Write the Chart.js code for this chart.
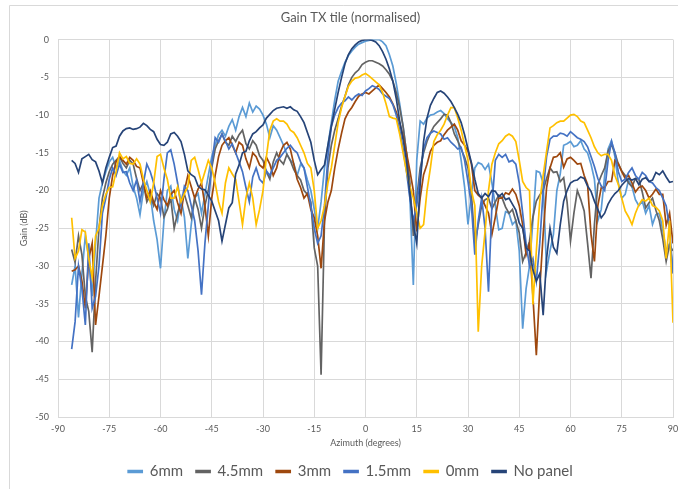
<!DOCTYPE html>
<html>
<head>
<meta charset="utf-8">
<script src="https://cdn.jsdelivr.net/npm/chart.js@4.4.0/dist/chart.umd.min.js"></script>
<style>
  html, body { margin: 0; padding: 0; background: #fff; }
</style>
</head>
<body>
<canvas id="mycanvas" width="678" height="489"></canvas>
<script>
// azimuth in degrees (1 degree steps), gain in dB (normalised)
var azimuth = [-86,-85,-84,-83,-82,-81,-80,-79,-78,-77,
  -76,-75,-74,-73,-72,-71,-70,-69,-68,-67,
  -66,-65,-64,-63,-62,-61,-60,-59,-58,-57,
  -56,-55,-54,-53,-52,-51,-50,-49,-48,-47,
  -46,-45,-44,-43,-42,-41,-40,-39,-38,-37,
  -36,-35,-34,-33,-32,-31,-30,-29,-28,-27,
  -26,-25,-24,-23,-22,-21,-20,-19,-18,-17,
  -16,-15,-14,-13,-12,-11,-10,-9,-8,-7,
  -6,-5,-4,-3,-2,-1,0,1,2,3,
  4,5,6,7,8,9,10,11,12,13,
  14,15,16,17,18,19,20,21,22,23,
  24,25,26,27,28,29,30,31,32,33,
  34,35,36,37,38,39,40,41,42,43,
  44,45,46,47,48,49,50,51,52,53,
  54,55,56,57,58,59,60,61,62,63,
  64,65,66,67,68,69,70,71,72,73,
  74,75,76,77,78,79,80,81,82,83,
  84,85,86,87,88,89,90];

var gain6mm = [-32.5,-30,-36.8,-31,-26,-29,-34,-27,-21,-19,
  -17.5,-16.2,-15.6,-17,-16,-17.4,-18,-17,-19.5,-21,
  -23.2,-20,-18.8,-20.5,-24,-26.5,-30.3,-24,-20,-19.4,
  -22.5,-24,-21,-23.5,-29,-24.5,-21,-20.4,-23,-20.5,
  -18,-15.5,-14,-12.6,-12,-12.8,-11.5,-10.6,-12,-10.2,
  -9,-10.2,-8.4,-9.6,-8.8,-9.2,-10,-11.2,-13,-11.4,
  -12,-13,-14,-15.2,-16,-16.4,-18,-16.5,-17,-18.6,
  -20,-22.5,-25,-21.5,-17,-14,-11,-8,-5.5,-4.2,
  -3,-2.1,-1.5,-1,-0.6,-0.4,-0.2,-0.1,0,0,
  0,-0.3,-0.8,-2,-3.5,-5.8,-8.5,-11.5,-15,-21,
  -32.5,-16,-10.8,-11.2,-10.4,-10,-9.9,-9.6,-9.4,-9.8,
  -10.5,-11,-11.5,-13,-16,-19.5,-24.5,-20.4,-17,-16.3,
  -16.5,-17.2,-16.5,-19,-22,-25.2,-25,-22.8,-23,-24.5,
  -24,-28,-38.3,-33,-30,-24,-17.4,-17.6,-19,-30.6,
  -28,-25.8,-20,-17.8,-14,-13.8,-13.5,-14.2,-14,-13.4,
  -14.5,-15,-16.5,-18.5,-24,-22.5,-18,-14.5,-13.4,-15.5,
  -19,-21,-20.5,-18.6,-19.5,-21.2,-22,-21.4,-23,-22,
  -24.5,-23.2,-23,-25.2,-28,-27,-30];

var gain4_5mm = [-27.8,-29.5,-26,-28.5,-34,-36,-41.4,-32,-25,-21,
  -19,-17.5,-16.5,-16,-15.5,-16.4,-17,-16,-16.5,-18.4,
  -20,-19,-21.5,-20.6,-22,-20.4,-21,-23.5,-22.5,-21,
  -25,-23,-21.5,-20.5,-22,-23.6,-21,-22.5,-25,-22,
  -20,-17,-14.5,-13.4,-12.5,-13.6,-14,-12.8,-13.5,-12.6,
  -12,-13.8,-14.5,-13.4,-14,-15.4,-16,-17.5,-18.5,-16.2,
  -15,-16,-16.5,-15.2,-16,-17.2,-18,-18.6,-20,-20.5,
  -21.5,-27.6,-30,-44.4,-24,-17,-14,-12,-10.5,-8.8,
  -7.5,-6,-5,-4.4,-4,-3.3,-3,-2.8,-2.8,-3,
  -3.2,-3.5,-4,-4.6,-5.5,-7,-9,-11.5,-15,-19,
  -26,-21,-17,-15,-13.5,-12.4,-11.5,-11,-10.5,-9.9,
  -10,-11,-12.5,-13.4,-14.5,-15.6,-17,-20.5,-27,-24.5,
  -22,-21.2,-21,-22.4,-21.5,-20.6,-21,-22.2,-23,-22.5,
  -24,-25.6,-29.4,-28.2,-26.7,-23.5,-21.4,-20.6,-20,-18.4,
  -17,-17.6,-17.5,-18.8,-18.3,-21.5,-26.7,-23,-20,-21.2,
  -22.7,-27,-31.6,-24.5,-19.2,-18,-17,-14.8,-13.9,-15,
  -16.5,-17.4,-18,-19,-19.5,-18.4,-18.5,-20.2,-22.3,-21.6,
  -21,-22.6,-24,-26.4,-29.4,-27.2,-28];

var gain3mm = [-30.7,-30.5,-30,-32,-35.6,-29,-27,-37.8,-34,-30,
  -26,-21,-18,-16.2,-15.5,-16,-16.5,-15.6,-16,-16.8,
  -17,-19,-21,-20,-21.5,-22.5,-20,-21.2,-22,-20.5,
  -20,-21.6,-23,-20,-18,-19.5,-21,-19.8,-19,-22,
  -26,-21,-18,-15.5,-14,-13.4,-13,-14,-15,-13.6,
  -14,-15.8,-17,-15,-15.5,-16.6,-17,-15.6,-16.5,-18,
  -17,-15,-14,-13.6,-14.5,-16.5,-18.5,-19.6,-21,-20.4,
  -22.5,-23.6,-26,-30.3,-24,-21.5,-20,-17,-14.5,-12.4,
  -10.5,-9.6,-9,-8.2,-7.5,-7.2,-7,-7.2,-6.8,-6.4,
  -6,-6.5,-7,-7.6,-8.5,-9.6,-11,-12.8,-15,-17.4,
  -20,-25.4,-21,-17.9,-16.5,-14.8,-14,-13.6,-13.4,-12.6,
  -12,-11.6,-11.2,-12,-13.4,-14,-14.8,-16.5,-20,-20.6,
  -21,-22,-23,-25.8,-23.5,-21,-21,-20.3,-20.5,-19.8,
  -20.5,-22,-24.5,-28.5,-27,-34,-41.8,-33,-25.8,-19.6,
  -17,-15.6,-15.5,-15,-16.9,-15.8,-15.6,-16,-16.5,-16.4,
  -18,-19.2,-25.8,-29.4,-22,-19.6,-19.6,-18.8,-18.8,-16,
  -16.4,-17.5,-18.4,-18,-19,-20.2,-19.6,-19.4,-20,-21,
  -20.5,-19.8,-20.5,-20.5,-24.6,-23,-27];

var gain1_5mm = [-41,-37.4,-30,-33,-37.8,-27,-35.6,-34,-30,-23,
  -21,-18.5,-17,-18,-16.5,-17.6,-17.5,-19,-20,-18.6,
  -21.5,-19,-16.5,-17.5,-19,-21,-23,-18.5,-15,-14.6,
  -16.5,-19,-22,-19.4,-20,-22,-24,-28,-33.8,-27,
  -22,-16.5,-13,-13.6,-12.5,-13.4,-14.5,-13.8,-15,-16.2,
  -17.5,-19.6,-21.5,-18.2,-17,-18.5,-19,-17.4,-18,-17,
  -16,-15.6,-15,-14.4,-14,-14.6,-15,-16.2,-17,-19.5,
  -22,-25,-27,-26,-22,-15.5,-11.5,-10,-9,-8.4,
  -8.1,-7.6,-8,-7.5,-7.2,-7.4,-6.8,-6.5,-6.1,-6.3,
  -6.6,-7.2,-7.5,-7.8,-8.6,-10,-12,-14.5,-17.5,-21,
  -24,-22,-18,-14.5,-13,-12.4,-12.1,-12.3,-12.5,-13.2,
  -13,-13.6,-14,-14.5,-14.3,-16,-18.8,-22,-28.5,-24,
  -21,-25,-33.4,-22,-16,-15.2,-15.6,-15.2,-16.2,-16,
  -16.5,-19,-23,-27,-30,-29,-32,-27,-20,-15.5,
  -13.2,-12.8,-12.8,-12.4,-12.5,-12.8,-12.2,-12.6,-13,-13.2,
  -13.5,-14.2,-15.5,-16.8,-18.4,-19.4,-20,-16,-13.5,-15,
  -17.5,-18.8,-18.5,-17.6,-17,-18,-18.5,-17.6,-18,-18.8,
  -19,-19.6,-20,-21,-22,-25,-31];

var gain0mm = [-23.6,-29,-28,-25.2,-25.5,-29,-31.5,-26,-25,-22,
  -20.5,-19.6,-19.5,-17.5,-15,-15.8,-15.5,-16.4,-16.5,-15.8,
  -16.5,-18.5,-20,-21.5,-19,-15.5,-15.2,-17,-18.5,-21,
  -21,-19.5,-21.5,-20.4,-19.5,-16,-15.6,-17.2,-19,-17.5,
  -16,-17,-19,-21.5,-23,-19,-17,-17.8,-18.5,-21.5,
  -24.5,-21,-19,-21,-24.5,-22.5,-20,-15.5,-12,-10.8,
  -10.5,-10.8,-10.8,-11.2,-12,-12.3,-13,-14,-15,-16.4,
  -17,-20,-25,-24,-22,-19,-17,-14,-11,-9,
  -7.5,-6.2,-5.5,-5.1,-5,-4.7,-4.5,-4.8,-5.2,-5.6,
  -6,-7,-8.5,-10.2,-10.4,-10.5,-12.5,-15,-17.5,-19.5,
  -21,-23,-25,-24.5,-20,-17,-13.5,-12.6,-12,-11.2,
  -10,-9,-9,-10.4,-12,-14,-16,-20,-22,-38.7,
  -30,-25.4,-20,-16.5,-15,-13.8,-13.4,-12.8,-12.5,-12.8,
  -13.5,-16,-18.8,-19.6,-20,-35.1,-28,-21.4,-18,-14.8,
  -11.7,-11.4,-11,-10.8,-10.8,-10.4,-10,-9.9,-10.2,-10.8,
  -11,-12,-13,-14.2,-15,-15.4,-15.2,-15.2,-16,-18,
  -19.2,-21,-22.7,-23.5,-24.5,-23,-21.9,-21.2,-21.4,-21,
  -22,-22.2,-22.7,-24,-29,-24,-37.5];

var gainNoPanel = [-16,-16.4,-17.6,-15.8,-15.5,-15.2,-15.9,-16.2,-17.4,-19,
  -17,-15.6,-14.3,-14.1,-12.8,-12.1,-11.8,-11.7,-11.9,-11.8,
  -11.6,-11.1,-11.4,-11.9,-12.2,-13.2,-13.9,-14,-13.6,-12.5,
  -12.3,-12.8,-13.5,-15.2,-17.4,-17.9,-18.2,-19.4,-19.8,-19.9,
  -20.6,-21.4,-22.7,-24,-26.7,-24.5,-22.3,-21.6,-17.8,-16.6,
  -15,-14.8,-13.4,-12.5,-12.2,-11.7,-11.3,-10.4,-9.9,-9.4,
  -9.1,-9,-8.9,-9.1,-8.9,-9.3,-9.5,-10.2,-11,-12.3,
  -13.6,-16,-17.9,-17.2,-16.6,-14,-11.5,-9.2,-7,-5,
  -3.2,-2,-1.2,-0.7,-0.3,-0.1,0,0,-0.1,-0.3,
  -0.8,-1.6,-2.6,-3.9,-5.5,-7.8,-10.8,-13.2,-16,-20.5,
  -24.5,-27,-19.2,-13.5,-10.4,-8.7,-7.8,-7,-6.8,-7.1,
  -7.6,-8.2,-9,-9.9,-11,-12.6,-14.5,-16.3,-18.5,-20.4,
  -21,-20.4,-20.8,-20,-20.1,-20.8,-20.4,-21.2,-21,-21.8,
  -22.6,-24.3,-25,-27.6,-28,-30.5,-32,-31,-36.5,-29,
  -25,-27.5,-28.3,-24.5,-21.4,-20,-19,-18.7,-18.6,-18.2,
  -18.4,-19.4,-20.1,-21.4,-22.5,-23.6,-23,-21.8,-21,-20.4,
  -20,-19.3,-18.8,-18.4,-18.6,-18.4,-19.2,-18.5,-18.3,-18.8,
  -18.6,-17.6,-17.9,-17.4,-18.2,-18.9,-18.8];

var seriesNames = ["6mm", "4.5mm", "3mm", "1.5mm", "0mm", "No panel"];
var seriesColors = ["#5B9BD5", "#636363", "#9E480E", "#4472C4", "#FFC000", "#264478"];
var seriesValues = [gain6mm, gain4_5mm, gain3mm, gain1_5mm, gain0mm, gainNoPanel];

var xTicks = [-90, -75, -60, -45, -30, -15, 0, 15, 30, 45, 60, 75, 90];
var yTicks = [0, -5, -10, -15, -20, -25, -30, -35, -40, -45, -50];

var textColor = "#595959";
var gridColor = "#d9d9d9";
var fontFamily = "Lato, 'Liberation Sans', sans-serif";

var datasets = [];
for (var s = 0; s < seriesNames.length; s++) {
  var pts = [];
  for (var i = 0; i < azimuth.length; i++) {
    pts.push({x: azimuth[i], y: seriesValues[s][i]});
  }
  datasets.push({
    label: seriesNames[s],
    data: pts,
    borderColor: seriesColors[s],
    backgroundColor: seriesColors[s],
    borderWidth: 1.7,
    pointRadius: 0,
    tension: 0,
    fill: false,
    order: seriesNames.length - s   // later series drawn on top, like the original
  });
}

// white background and the outer chart frame; title and legend sit a bit right of centre
var framePlugin = {
  id: "frame",
  afterLayout: function(chart) {
    var shift = 14;
    chart.titleBlock.left += shift;
    chart.titleBlock.right += shift;
    chart.legend.left += shift;
    chart.legend.right += shift;
  },
  beforeDraw: function(chart) {
    var c = chart.ctx;
    c.save();
    c.fillStyle = "#ffffff";
    c.fillRect(0, 0, chart.width, chart.height);
    c.strokeStyle = gridColor;
    c.lineWidth = 1;
    c.beginPath();
    c.moveTo(9.5, chart.height);
    c.lineTo(9.5, 5.5);
    c.lineTo(chart.width, 5.5);
    c.stroke();
    c.restore();
  }
};

var ctx = document.getElementById("mycanvas");

var LineGraph = new Chart(ctx, {
  type: "line",
  data: { datasets: datasets },
  plugins: [framePlugin],
  options: {
    responsive: false,
    animation: false,
    devicePixelRatio: 1,
    layout: { padding: { left: 0, right: 5, top: 0, bottom: 0 } },
    plugins: {
      title: {
        display: true,
        text: "Gain TX tile (normalised)",
        color: textColor,
        font: { family: fontFamily, size: 13, weight: "normal" },
        padding: { top: 10, bottom: 14 }
      },
      legend: {
        position: "bottom",
        labels: {
          color: textColor,
          font: { family: fontFamily, size: 15 },
          boxWidth: 14,
          boxHeight: 2,
          padding: 13,
          sort: function(a, b) { return a.datasetIndex - b.datasetIndex; }
        }
      },
      tooltip: { enabled: false }
    },
    scales: {
      x: {
        type: "linear",
        min: -90,
        max: 90,
        afterBuildTicks: function(axis) {
          axis.ticks = xTicks.map(function(v) { return {value: v}; });
        },
        afterFit: function(axis) {
          axis.height = 34;
          axis.paddingLeft = 0;
          axis.paddingRight = 0;
        },
        grid: { color: gridColor, drawTicks: false },
        border: { color: gridColor },
        ticks: {
          color: textColor,
          font: { family: fontFamily, size: 9 },
          padding: 7,
          maxRotation: 0
        },
        title: {
          display: true,
          text: "Azimuth (degrees)",
          color: textColor,
          font: { family: fontFamily, size: 9 },
          padding: { top: 0, bottom: 3 }
        }
      },
      y: {
        type: "linear",
        min: -50,
        max: 0,
        afterBuildTicks: function(axis) {
          axis.ticks = yTicks.map(function(v) { return {value: v}; });
        },
        afterFit: function(axis) { axis.width = 58; },
        grid: { color: gridColor, drawTicks: false },
        border: { color: gridColor },
        ticks: {
          color: textColor,
          font: { family: fontFamily, size: 9 },
          padding: 9
        },
        title: {
          display: true,
          text: "Gain (dB)",
          color: textColor,
          font: { family: fontFamily, size: 9 },
          padding: { top: 19, bottom: 0 }
        }
      }
    }
  }
});
</script>
</body>
</html>
